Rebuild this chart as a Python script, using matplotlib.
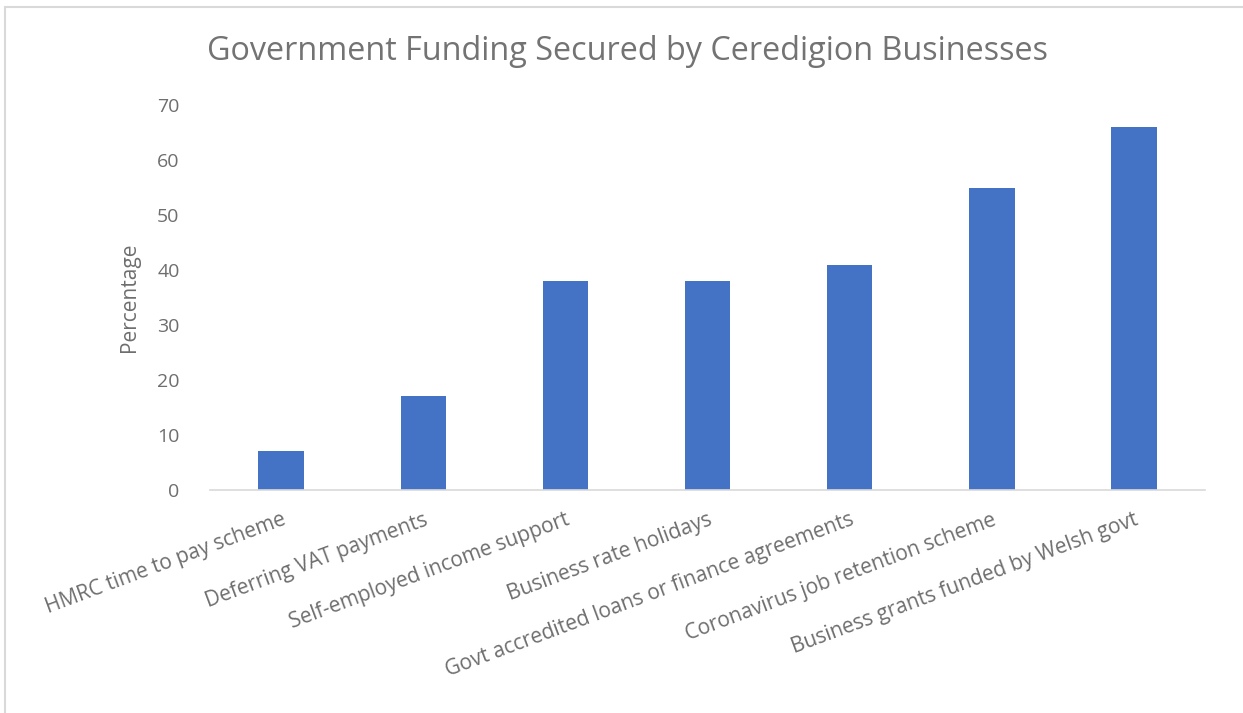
import matplotlib.pyplot as plt
from matplotlib.patches import Rectangle

plt.rcParams['font.family'] = ['Open Sans', 'DejaVu Sans']

schemes = ["HMRC time to pay scheme", "Deferring VAT payments",
           "Self-employed income support", "Business rate holidays",
           "Govt accredited loans or finance agreements",
           "Coronavirus job retention scheme",
           "Business grants funded by Welsh govt"]
percent = [7, 17, 38, 38, 41, 55, 66]
yticks = [0, 10, 20, 30, 40, 50, 60, 70]

grey = "#6E6E6E"

fig = plt.figure(figsize=(12.43, 7.13), dpi=100)
ax = fig.add_axes([0.169, 0.3128, 0.8004, 0.5399])

x = range(len(schemes))
ax.bar(x, percent, width=0.32, color="#4472C4")

ax.set_xlim(-0.5, len(schemes) - 0.5)
ax.set_ylim(0, 70)
ax.set_yticks(yticks)
ax.set_xticks(list(x))
ax.set_xticklabels(schemes, rotation=20.5, ha="right", va="top",
                   rotation_mode="anchor", fontsize=15, color=grey)
ax.tick_params(axis="y", labelsize=14, labelcolor=grey, length=0, pad=22)
ax.tick_params(axis="x", length=0, pad=14)

for side in ["top", "right", "left"]:
    ax.spines[side].set_visible(False)
ax.spines["bottom"].set_color("#D9D9D9")
ax.spines["bottom"].set_linewidth(1.2)

ax.set_ylabel("Percentage", fontsize=15, color=grey, labelpad=12)
fig.text(0.505, 0.928, "Government Funding Secured by Ceredigion Businesses",
         ha="center", va="center", fontsize=23.3, color="#737373")

# chart area frame, only top and left edges fall inside the canvas
fig.patches.append(Rectangle((5 / 1243, -0.1), 1.2, 1.1 - 7 / 713,
                             transform=fig.transFigure, fill=False,
                             edgecolor="#D9D9D9", linewidth=1.5))

fig.savefig("out.png", dpi=100)
